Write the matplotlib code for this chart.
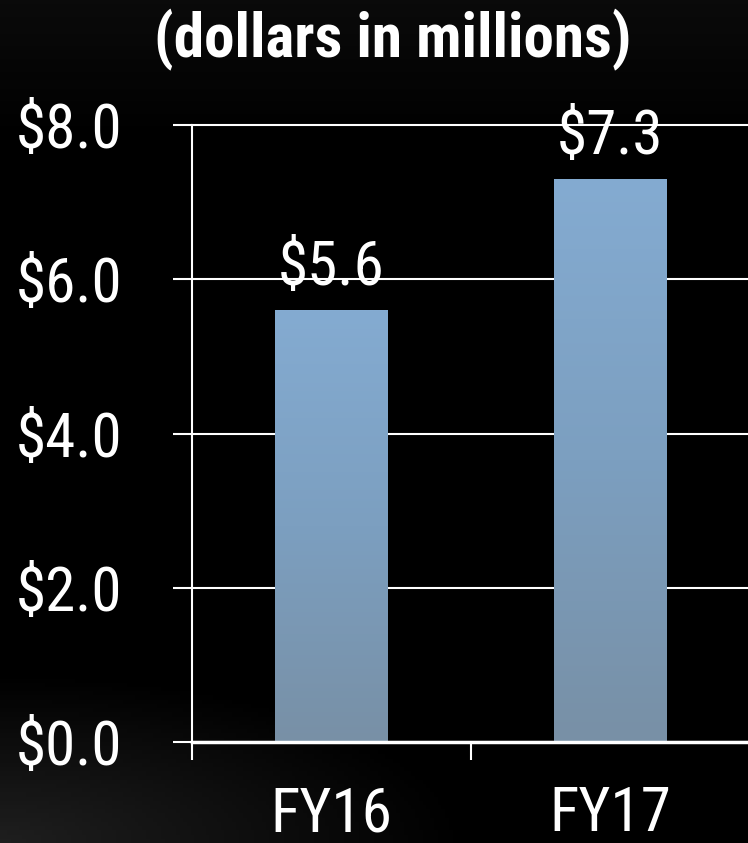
import matplotlib
matplotlib.use("Agg")
import matplotlib.pyplot as plt
import numpy as np
from matplotlib import font_manager
from matplotlib.colors import LinearSegmentedColormap

categories = ["FY16", "FY17"]
values = [5.6, 7.3]
yticks = [0, 2, 4, 6, 8]
ytick_labels = ["$0.0", "$2.0", "$4.0", "$6.0", "$8.0"]
title = "(dollars in millions)"

# pick a narrow font if there is one
fonts = font_manager.fontManager.ttflist
names = {f.name for f in fonts}
family, stretch = "Liberation Sans", "normal"
for cand in ["Liberation Sans Narrow", "Roboto Condensed", "Open Sans Condensed",
             "DejaVu Sans Condensed", "Noto Sans Condensed"]:
    if cand in names:
        family = cand
        break
else:
    for f in fonts:
        if f.name in ("DejaVu Sans", "Noto Sans", "Open Sans", "Roboto") and \
                str(f.stretch) in ("condensed", "semi-condensed", "75", "87.5"):
            family, stretch = f.name, f.stretch
            break
plt.rcParams["font.family"] = [family, "DejaVu Sans"]
plt.rcParams["font.stretch"] = stretch

fig = plt.figure(figsize=(7.48, 8.43), dpi=100, facecolor="black")

# background: black with a faint lighter streak at bottom-left
bg = fig.add_axes([0, 0, 1, 1], zorder=0)
bg.axis("off")
yy, xx = np.mgrid[0:1:200j, 0:1:200j]
glow = np.clip(1 - np.hypot(xx * 1.6, (1 - yy) * 5.0), 0, 1) * 0.12
top = np.clip(1 - yy * 6, 0, 1) * 0.04
shade = glow + top
bg.imshow(np.dstack([shade] * 3), extent=[0, 1, 0, 1], aspect="auto", origin="upper")
bg.set_xlim(0, 1)
bg.set_ylim(0, 1)

ax = fig.add_axes([192 / 748, 101 / 843, 558 / 748, 617 / 843], zorder=1)
ax.set_facecolor("none")

x = np.arange(len(categories))
bars = ax.bar(x, values, width=0.405, color="#7fa3c6", zorder=2)

# vertical gradient inside each bar
cmap = LinearSegmentedColormap.from_list("bar", ["#7890a6", "#7c9fc0", "#84abd1"])
grad = np.linspace(0, 1, 256).reshape(-1, 1)
for b in bars:
    x0, w, h = b.get_x(), b.get_width(), b.get_height()
    im = ax.imshow(grad, cmap=cmap, extent=[x0, x0 + w, 0, h], origin="lower",
                   aspect="auto", zorder=3)
    im.set_clip_path(b)

for xi, v in zip(x, values):
    ax.text(xi, v + 0.33, f"${v:.1f}", ha="center", va="baseline",
            color="white", fontsize=44, zorder=4)

ax.set_xlim(-0.5, 1.5)
ax.set_ylim(0, 8)
ax.set_yticks(yticks)
ax.set_yticklabels(ytick_labels)
ax.set_xticks(x)
ax.set_xticklabels(categories)
ax.set_xticks([-0.5, 0.5], minor=True)

ax.grid(axis="y", color="white", linewidth=1.5, zorder=1)
for line in ax.get_ygridlines():
    line.set_clip_on(False)

for s in ["top", "right"]:
    ax.spines[s].set_visible(False)
ax.spines["left"].set_color("white")
ax.spines["left"].set_linewidth(1.5)
ax.spines["bottom"].set_color("white")
ax.spines["bottom"].set_linewidth(2.5)
ax.spines["bottom"].set_zorder(5)

ax.tick_params(axis="y", colors="white", labelsize=44, length=14, width=1.5,
               direction="out", pad=36)
ax.tick_params(axis="x", which="major", colors="white", labelsize=44, length=0, pad=31)
ax.tick_params(axis="x", which="minor", colors="white", length=13, width=1.5,
               direction="out")

fig.text(0.525, 0.953, title, ha="center", va="center", color="white",
         fontsize=44, fontweight="bold")

fig.savefig("out.png", dpi=100, facecolor="black")
